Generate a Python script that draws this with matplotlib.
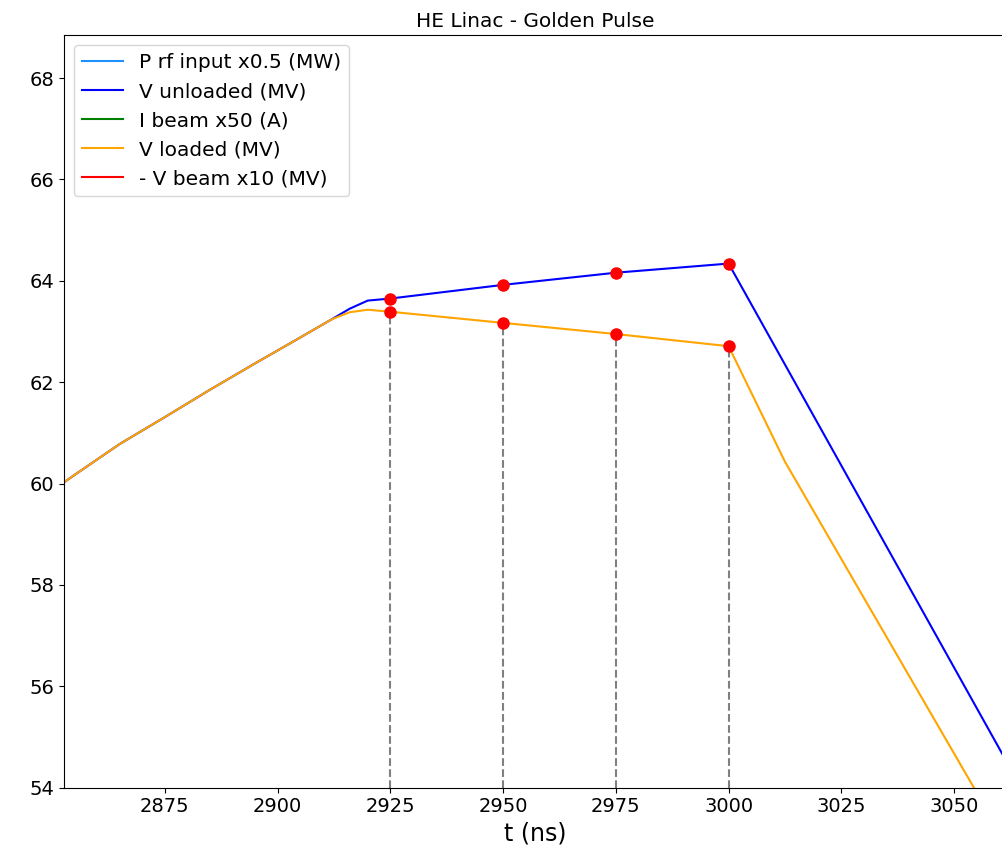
import numpy as np
from matplotlib import pyplot as plt

# 时间轴 (ns)
t_rise = [2850, 2855, 2865, 2875, 2885, 2895, 2905, 2912, 2916, 2920]
v_rise = [59.86, 60.17, 60.78, 61.31, 61.85, 62.37, 62.88, 63.24, 63.45, 63.61]

# V unloaded 后半段
t_unl = [2925, 2950, 2975, 3000, 3070]
v_unl = [63.65, 63.92, 64.16, 64.34, 53.18]

# V loaded 后半段
t_load = [2916, 2920, 2925, 2950, 2975, 3000, 3012.5, 3065]
v_load = [63.38, 63.43, 63.39, 63.17, 62.95, 62.71, 60.43, 52.37]

# 采样点
t_pts = [2925, 2950, 2975, 3000]
unl_pts = [63.65, 63.92, 64.16, 64.33]
load_pts = [63.39, 63.17, 62.95, 62.71]

fig = plt.figure(figsize=(10.03, 8.51), dpi=100)
ax = fig.add_axes([0.064, 0.0744, 0.939, 0.8845])

# 看不到的曲线 (超出范围), 只放图例
ax.plot([], [], color="dodgerblue", label="P rf input x0.5 (MW)")
ax.plot(t_rise + t_unl, v_rise + v_unl, color="blue", label="V unloaded (MV)")
ax.plot([], [], color="green", label="I beam x50 (A)")
ax.plot(t_rise[:-2] + t_load, v_rise[:-2] + v_load, color="orange", label="V loaded (MV)")
ax.plot([], [], color="red", label="- V beam x10 (MV)")

ax.vlines(t_pts, 54, load_pts, colors="gray", linestyles="--")
ax.plot(t_pts, unl_pts, "o", color="red", markersize=8)
ax.plot(t_pts, load_pts, "o", color="red", markersize=8)

ax.set_xlim(2852.7, 3061.5)
ax.set_ylim(54, 68.85)
ax.set_xticks(np.arange(2875, 3051, 25))
ax.set_yticks(np.arange(54, 69, 2))
ax.tick_params(labelsize=14)
ax.set_title("HE Linac - Golden Pulse", fontsize=14.5)
ax.set_xlabel("t (ns)", fontsize=17)
ax.legend(loc="upper left", fontsize=14.5)

fig.savefig("out.png")
